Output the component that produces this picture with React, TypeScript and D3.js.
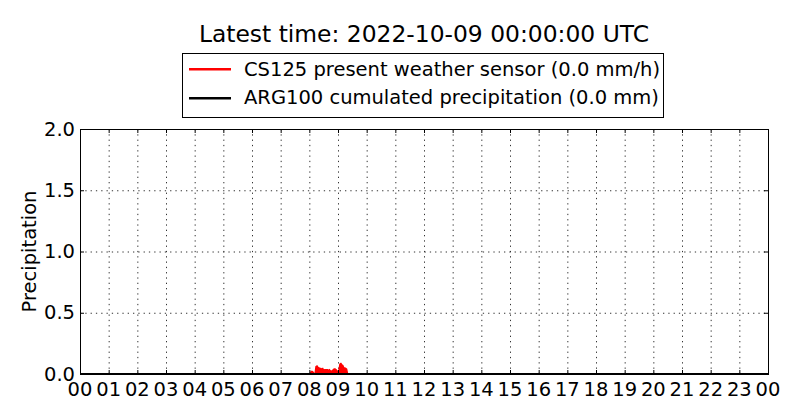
import React from "react";
import * as d3 from "d3";

// hours of day (decimal) for the CS125 rain-rate samples
const rateHours = [
  0, 8.0, 8.033, 8.067, 8.1, 8.133, 8.167, 8.2, 8.233, 8.267, 8.3, 8.333, 8.367, 8.4, 8.433, 8.467,
  8.5, 8.533, 8.567, 8.6, 8.633, 8.667, 8.7, 8.733, 8.767, 8.8, 8.833, 8.867, 8.9, 8.933, 8.967,
  9.0, 9.033, 9.067, 9.1, 9.133, 9.167, 9.2, 9.233, 9.267, 9.3, 9.333, 24,
];
const rateValues = [
  0, 0, 0, 0.02, 0.02, 0.015, 0, 0, 0.06, 0.065, 0.055, 0.05, 0.045, 0.045, 0.04, 0.045,
  0.03, 0.035, 0.035, 0.035, 0.035, 0.03, 0.035, 0.025, 0.025, 0.02, 0.035, 0.04, 0.04, 0.035, 0.025,
  0.02, 0.025, 0.08, 0.085, 0.075, 0.07, 0.05, 0.05, 0.045, 0.04, 0, 0,
];

// ARG100 cumulated precipitation
const cumHours = [0, 6, 12, 18, 24];
const cumValues = [0, 0, 0, 0, 0];

const hourTicks = d3.range(0, 25);
const hourLabels = hourTicks.map((h) => String(h % 24).padStart(2, "0"));
const yTicks = [0, 0.5, 1.0, 1.5, 2.0];

const title = "Latest time: 2022-10-09 00:00:00 UTC";
const legendLabels = [
  "CS125 present weather sensor (0.0 mm/h)",
  "ARG100 cumulated precipitation (0.0 mm)",
];
const legendColors = ["#ff0000", "#000000"];

const W = 800;
const H = 420;
const margin = { left: 80, right: 32, top: 129, bottom: 46 };
const font = "'DejaVu Sans', sans-serif";
const fs = 19.5;

export default function App() {
  const x = d3.scaleLinear().domain([0, 24]).range([margin.left, W - margin.right]);
  const y = d3.scaleLinear().domain([0, 2]).range([H - margin.bottom, margin.top]);
  const [x0, x1] = x.range();
  const [yb, yt] = y.range();

  const rate = rateHours.map((h, i) => [h, rateValues[i]] as [number, number]);
  const cum = cumHours.map((h, i) => [h, cumValues[i]] as [number, number]);

  const area = d3
    .area<[number, number]>()
    .x((d) => x(d[0]))
    .y0(y(0))
    .y1((d) => y(d[1]));
  const line = d3
    .line<[number, number]>()
    .x((d) => x(d[0]))
    .y((d) => y(d[1]));

  const cx = (x0 + x1) / 2;
  const legX = 182;
  const legW = 481;

  return (
    <svg
      width={W}
      height={H}
      style={{ position: "fixed", left: 0, top: 0, background: "#fff" }}
      fontFamily={font}
    >
      <rect x={0} y={0} width={W} height={H} fill="#fff" />
      <text x={cx} y={42} textAnchor="middle" fontSize={23.4}>
        {title}
      </text>

      {/* grid */}
      <g stroke="#333" strokeWidth={1} strokeDasharray="1.3,4">
        {hourTicks.slice(1, -1).map((h) => (
          <line key={"gx" + h} x1={x(h) + 0.5} x2={x(h) + 0.5} y1={yt} y2={yb} />
        ))}
        {yTicks.slice(1, -1).map((v) => (
          <line key={"gy" + v} x1={x0} x2={x1} y1={y(v) + 0.5} y2={y(v) + 0.5} />
        ))}
      </g>

      {/* data */}
      <path d={area(rate) || ""} fill="#ff0000" />
      <path d={line(rate) || ""} fill="none" stroke="#ff0000" strokeWidth={1.5} />
      <path d={line(cum) || ""} fill="none" stroke="#000" strokeWidth={2} />

      {/* ticks */}
      <g stroke="#000" strokeWidth={1}>
        {hourTicks.map((h) => (
          <g key={"tx" + h}>
            <line x1={x(h) + 0.5} x2={x(h) + 0.5} y1={yb} y2={yb - 4} />
            <line x1={x(h) + 0.5} x2={x(h) + 0.5} y1={yt} y2={yt + 4} />
          </g>
        ))}
        {yTicks.map((v) => (
          <g key={"ty" + v}>
            <line x1={x0} x2={x0 + 4} y1={y(v) + 0.5} y2={y(v) + 0.5} />
            <line x1={x1} x2={x1 - 4} y1={y(v) + 0.5} y2={y(v) + 0.5} />
          </g>
        ))}
      </g>

      <rect
        x={x0 + 0.5}
        y={yt + 0.5}
        width={x1 - x0}
        height={yb - yt}
        fill="none"
        stroke="#000"
        strokeWidth={1}
      />

      {/* tick labels */}
      <g fontSize={fs}>
        {hourTicks.map((h, i) => (
          <text key={"lx" + h} x={x(h)} y={yb + 21.5} textAnchor="middle">
            {hourLabels[i]}
          </text>
        ))}
        {yTicks.map((v) => (
          <text key={"ly" + v} x={x0 - 5} y={y(v) + 6.5} textAnchor="end">
            {v.toFixed(1)}
          </text>
        ))}
      </g>

      <text
        transform={`translate(36,${(yt + yb) / 2}) rotate(-90)`}
        textAnchor="middle"
        fontSize={fs}
      >
        Precipitation
      </text>

      {/* legend */}
      <rect x={legX + 0.5} y={53.5} width={legW} height={64} fill="#fff" stroke="#000" strokeWidth={1} />
      {legendLabels.map((lab, i) => (
        <g key={lab}>
          <line
            x1={legX + 7}
            x2={legX + 49}
            y1={69.3 + i * 29}
            y2={69.3 + i * 29}
            stroke={legendColors[i]}
            strokeWidth={2.5}
          />
          <text x={legX + 62} y={75.7 + i * 28.5} fontSize={fs}>
            {lab}
          </text>
        </g>
      ))}
    </svg>
  );
}
